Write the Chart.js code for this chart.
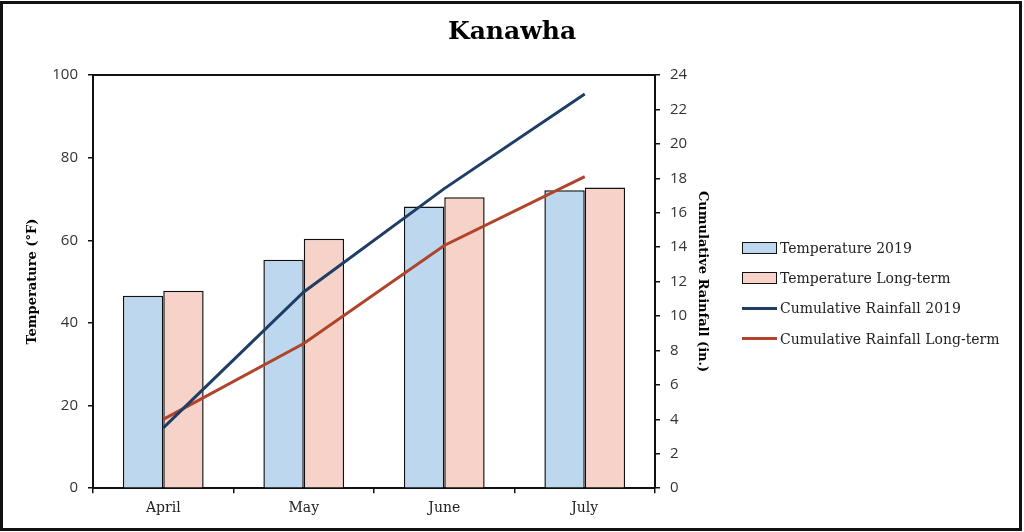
<!DOCTYPE html>
<html>
<head>
<meta charset="utf-8">
<script src="https://cdn.jsdelivr.net/npm/chart.js@4.4.1/dist/chart.umd.min.js"></script>
<style>
  html, body { margin: 0; padding: 0; background: #fff; }
  #wrap { position: absolute; left: 0; top: 0; width: 1024px; height: 532px; }
  #frame { position: absolute; left: 0; top: 1px; width: 1022px; height: 530px;
           border: 3px solid #111; box-sizing: border-box; pointer-events: none; }
  #legend { position: absolute; left: 742px; top: 233px; margin: 0; padding: 0; list-style: none;
            font-family: 'DejaVu Serif', serif; font-size: 14px; color: #222; }
  #legend li { display: flex; align-items: center; height: 30.2px; white-space: nowrap; }
  #legend .swatch { display: inline-block; width: 35px; margin-right: 3px; box-sizing: border-box; }
</style>
</head>
<body>
<div id="wrap"><canvas id="kanawhaChart"></canvas></div>
<ul id="legend"></ul>
<div id="frame"></div>
<script>
const months = ["April", "May", "June", "July"];
const temp2019 = [46.6, 55.3, 68.2, 72.1];
const tempLongTerm = [47.8, 60.4, 70.4, 72.8];
const rain2019 = [3.5, 11.4, 17.4, 22.9];
const rainLongTerm = [4.0, 8.4, 14.1, 18.1];

const serif = "'DejaVu Serif', serif";
const sans = "'Open Sans', sans-serif";

// top border of the plot box
const plotTopLine = {
  id: "plotTopLine",
  afterDatasetsDraw(chart) {
    const { ctx, chartArea } = chart;
    ctx.save();
    ctx.strokeStyle = "#111";
    ctx.lineWidth = 2;
    ctx.beginPath();
    ctx.moveTo(chartArea.left, chartArea.top);
    ctx.lineTo(chartArea.right, chartArea.top);
    ctx.stroke();
    ctx.restore();
  },
};

const ctx = document.getElementById("kanawhaChart").getContext("2d");
const chart = new Chart(ctx, {
  type: "bar",
  data: {
    labels: months,
    datasets: [
      {
        label: "Temperature 2019",
        data: temp2019,
        backgroundColor: "#BDD7EE",
        borderColor: "#111",
        borderWidth: 1.5,
        yAxisID: "y",
        order: 1,
      },
      {
        label: "Temperature Long-term",
        data: tempLongTerm,
        backgroundColor: "#F6D2C8",
        borderColor: "#111",
        borderWidth: 1.5,
        yAxisID: "y",
        order: 1,
      },
      {
        type: "line",
        label: "Cumulative Rainfall 2019",
        data: rain2019,
        borderColor: "#1F3E66",
        backgroundColor: "#1F3E66",
        borderWidth: 3,
        pointRadius: 0,
        tension: 0,
        yAxisID: "y1",
        order: 0,
      },
      {
        type: "line",
        label: "Cumulative Rainfall Long-term",
        data: rainLongTerm,
        borderColor: "#B0442A",
        backgroundColor: "#B0442A",
        borderWidth: 3,
        pointRadius: 0,
        tension: 0,
        yAxisID: "y1",
        order: 0,
      },
    ],
  },
  options: {
    responsive: true,
    maintainAspectRatio: false,
    animation: false,
    layout: { padding: { left: 2, right: 2, top: 10, bottom: 8 } },
    datasets: {
      bar: { categoryPercentage: 0.575, barPercentage: 1.0 },
    },
    plugins: {
      tooltip: { enabled: false },
      legend: { display: false },
      title: {
        display: true,
        text: "Kanawha",
        color: "#000",
        font: { family: serif, size: 25, weight: "bold" },
        padding: { top: 7, bottom: 28 },
      },
    },
    scales: {
      x: {
        grid: { display: true, drawOnChartArea: false, tickLength: 5, color: "#111", lineWidth: 1.5, offset: true },
        border: { display: true, color: "#111", width: 2 },
        ticks: { color: "#222", padding: 7, font: { family: serif, size: 14 } },
      },
      y: {
        position: "left",
        min: 0,
        max: 100,
        ticks: { stepSize: 20, color: "#333", padding: 10, font: { family: sans, size: 15 } },
        grid: { display: true, drawOnChartArea: false, tickLength: 5, color: "#111", lineWidth: 1.5 },
        border: { display: true, color: "#111", width: 2 },
        title: {
          display: true,
          text: "Temperature (°F)",
          color: "#000",
          font: { family: serif, size: 13, weight: "bold" },
          padding: { top: 23, bottom: 8 },
        },
        afterFit(scale) { scale.width = 91; },
      },
      y1: {
        position: "right",
        min: 0,
        max: 24,
        ticks: { stepSize: 2, color: "#333", padding: 10, font: { family: sans, size: 15 } },
        grid: { display: true, drawOnChartArea: false, tickLength: 5, color: "#111", lineWidth: 1.5 },
        border: { display: true, color: "#111", width: 2 },
        title: {
          display: true,
          text: "Cumulative Rainfall (in.)",
          color: "#000",
          font: { family: serif, size: 13, weight: "bold" },
          padding: { top: 312, bottom: 4 },
        },
        afterFit(scale) { scale.width = 367; },
      },
    },
  },
  plugins: [plotTopLine],
});

// legend built from the datasets
const legendEl = document.getElementById("legend");
chart.data.datasets.forEach((ds) => {
  const li = document.createElement("li");
  const swatch = document.createElement("span");
  swatch.className = "swatch";
  if (ds.type === "line") {
    swatch.style.height = "3px";
    swatch.style.background = ds.borderColor;
  } else {
    swatch.style.height = "12px";
    swatch.style.background = ds.backgroundColor;
    swatch.style.border = "1.5px solid " + ds.borderColor;
  }
  li.appendChild(swatch);
  li.appendChild(document.createTextNode(ds.label));
  legendEl.appendChild(li);
});
</script>
</body>
</html>
